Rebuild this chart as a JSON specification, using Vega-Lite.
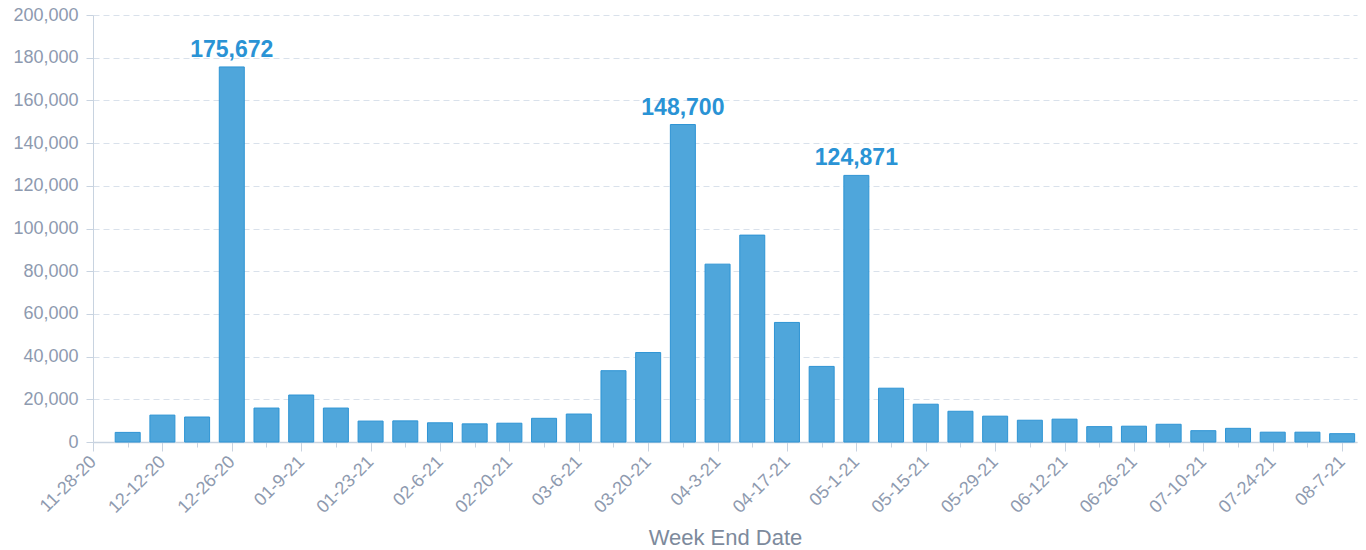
{
  "$schema": "https://vega.github.io/schema/vega-lite/v6.json",
  "width": 1264,
  "height": 427,
  "autosize": "none",
  "padding": {"left": 93, "top": 15, "right": 9, "bottom": 108},
  "background": "white",
  "config": {
    "view": {"stroke": null},
    "font": "Liberation Sans"
  },
  "data": {
    "values": [
      {"date": "2020-12-05", "value": 4500},
      {"date": "2020-12-12", "value": 12600},
      {"date": "2020-12-19", "value": 11700},
      {"date": "2020-12-26", "value": 175672},
      {"date": "2021-01-02", "value": 15900},
      {"date": "2021-01-09", "value": 22000},
      {"date": "2021-01-16", "value": 15900},
      {"date": "2021-01-23", "value": 9800},
      {"date": "2021-01-30", "value": 9900},
      {"date": "2021-02-06", "value": 9000},
      {"date": "2021-02-13", "value": 8500},
      {"date": "2021-02-20", "value": 8800},
      {"date": "2021-02-27", "value": 11100},
      {"date": "2021-03-06", "value": 13100},
      {"date": "2021-03-13", "value": 33400},
      {"date": "2021-03-20", "value": 41900},
      {"date": "2021-03-27", "value": 148700},
      {"date": "2021-04-03", "value": 83300},
      {"date": "2021-04-10", "value": 96900},
      {"date": "2021-04-17", "value": 56000},
      {"date": "2021-04-24", "value": 35400},
      {"date": "2021-05-01", "value": 124871},
      {"date": "2021-05-08", "value": 25200},
      {"date": "2021-05-15", "value": 17700},
      {"date": "2021-05-22", "value": 14400},
      {"date": "2021-05-29", "value": 12100},
      {"date": "2021-06-05", "value": 10200},
      {"date": "2021-06-12", "value": 10700},
      {"date": "2021-06-19", "value": 7200},
      {"date": "2021-06-26", "value": 7400},
      {"date": "2021-07-03", "value": 8300},
      {"date": "2021-07-10", "value": 5300},
      {"date": "2021-07-17", "value": 6400},
      {"date": "2021-07-24", "value": 4600},
      {"date": "2021-07-31", "value": 4600},
      {"date": "2021-08-07", "value": 3900}
    ]
  },
  "resolve": {"axis": {"x": "independent"}},
  "layer": [
    {
      "mark": {"type": "bar", "width": 25, "fill": "#4FA6DB", "stroke": "#2E94D4", "strokeWidth": 1},
      "encoding": {
        "x": {
          "field": "date",
          "type": "temporal",
          "scale": {"type": "utc", "padding": 0, "domain": [{"year": 2020, "month": 11, "date": 28, "utc": true}, {"year": 2021, "month": 8, "date": 10, "utc": true}]},
          "axis": {
            "orient": "bottom",
            "title": "Week End Date",
            "titleFontSize": 22,
            "titleFontWeight": "normal",
            "titleColor": "#7D8A9C",
            "titlePadding": 11,
            "format": "%m-%-d-%y",
            "values": [
              {"year": 2020, "month": 11, "date": 28, "utc": true},
              {"year": 2020, "month": 12, "date": 12, "utc": true},
              {"year": 2020, "month": 12, "date": 26, "utc": true},
              {"year": 2021, "month": 1, "date": 9, "utc": true},
              {"year": 2021, "month": 1, "date": 23, "utc": true},
              {"year": 2021, "month": 2, "date": 6, "utc": true},
              {"year": 2021, "month": 2, "date": 20, "utc": true},
              {"year": 2021, "month": 3, "date": 6, "utc": true},
              {"year": 2021, "month": 3, "date": 20, "utc": true},
              {"year": 2021, "month": 4, "date": 3, "utc": true},
              {"year": 2021, "month": 4, "date": 17, "utc": true},
              {"year": 2021, "month": 5, "date": 1, "utc": true},
              {"year": 2021, "month": 5, "date": 15, "utc": true},
              {"year": 2021, "month": 5, "date": 29, "utc": true},
              {"year": 2021, "month": 6, "date": 12, "utc": true},
              {"year": 2021, "month": 6, "date": 26, "utc": true},
              {"year": 2021, "month": 7, "date": 10, "utc": true},
              {"year": 2021, "month": 7, "date": 24, "utc": true},
              {"year": 2021, "month": 8, "date": 7, "utc": true}
            ],
            "labelAngle": -45,
            "labelAlign": "right",
            "labelBaseline": "middle",
            "labelFontSize": 18,
            "labelColor": "#8E9AAF",
            "labelPadding": 8,
            "labelOverlap": false,
            "labelFlush": false,
            "tickSize": 9,
            "tickColor": "#C8D3E0",
            "domainColor": "#C8D3E0",
            "domainWidth": 1.5,
            "grid": false
          }
        },
        "y": {
          "field": "value",
          "type": "quantitative",
          "scale": {"domain": [0, 200000], "nice": false},
          "axis": {
            "title": null,
            "values": [0, 20000, 40000, 60000, 80000, 100000, 120000, 140000, 160000, 180000, 200000],
            "format": ",.0f",
            "labelFontSize": 18,
            "labelColor": "#8E9AAF",
            "labelPadding": 8,
            "tickSize": 7,
            "tickColor": "#C8D3E0",
            "domainColor": "#C8D3E0",
            "domainWidth": 1,
            "grid": true,
            "gridColor": "#D9E1EB",
            "gridDash": [6, 4],
            "gridWidth": 1
          }
        }
      }
    },
    {
      "transform": [{"filter": "datum.value > 100000"}],
      "mark": {"type": "text", "fontSize": 23, "fontWeight": "bold", "color": "#2A93D5", "baseline": "bottom", "dy": -5},
      "encoding": {
        "x": {
          "field": "date",
          "type": "temporal",
          "axis": {
            "orient": "bottom",
            "values": [
              {"year": 2020, "month": 12, "date": 5, "utc": true},
              {"year": 2020, "month": 12, "date": 19, "utc": true},
              {"year": 2021, "month": 1, "date": 2, "utc": true},
              {"year": 2021, "month": 1, "date": 16, "utc": true},
              {"year": 2021, "month": 1, "date": 30, "utc": true},
              {"year": 2021, "month": 2, "date": 13, "utc": true},
              {"year": 2021, "month": 2, "date": 27, "utc": true},
              {"year": 2021, "month": 3, "date": 13, "utc": true},
              {"year": 2021, "month": 3, "date": 27, "utc": true},
              {"year": 2021, "month": 4, "date": 10, "utc": true},
              {"year": 2021, "month": 4, "date": 24, "utc": true},
              {"year": 2021, "month": 5, "date": 8, "utc": true},
              {"year": 2021, "month": 5, "date": 22, "utc": true},
              {"year": 2021, "month": 6, "date": 5, "utc": true},
              {"year": 2021, "month": 6, "date": 19, "utc": true},
              {"year": 2021, "month": 7, "date": 3, "utc": true},
              {"year": 2021, "month": 7, "date": 17, "utc": true},
              {"year": 2021, "month": 7, "date": 31, "utc": true}
            ],
            "labels": false,
            "title": null,
            "domain": false,
            "grid": false,
            "tickSize": 5,
            "tickColor": "#C8D3E0"
          }
        },
        "y": {"field": "value", "type": "quantitative"},
        "text": {"field": "value", "type": "quantitative", "format": ","}
      }
    }
  ]
}
